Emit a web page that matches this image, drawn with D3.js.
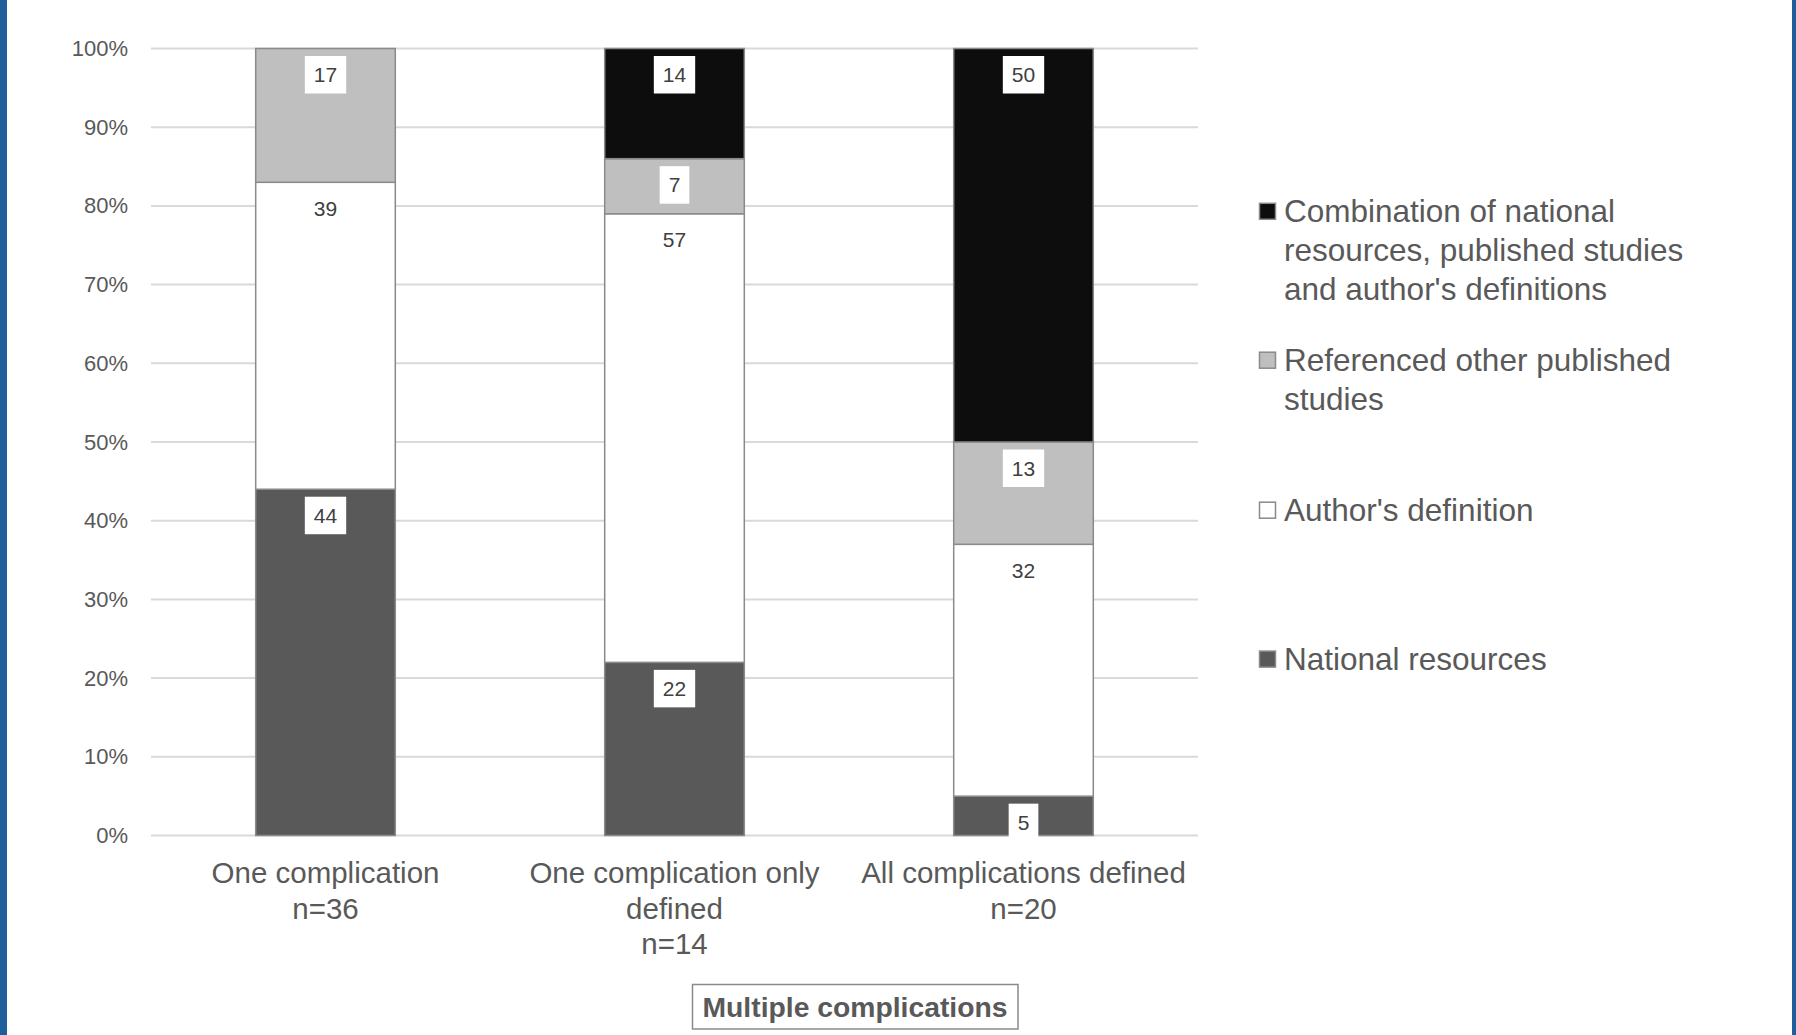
<!DOCTYPE html>
<html>
<head>
<meta charset="utf-8">
<script src="https://cdn.jsdelivr.net/npm/d3@7"></script>
<style>
  html, body { margin: 0; padding: 0; background: #ffffff; }
  svg { display: block; }
  text { font-family: "Liberation Sans", Arial, sans-serif; }
</style>
</head>
<body>
<svg id="chart" width="1796" height="1035"></svg>
<script>
// Groups of studies along the x axis (each label split into lines)
const categories = ["One complication", "One complication only defined", "All complications defined"];
const categoryLines = [
  ["One complication", "n=36"],
  ["One complication only", "defined", "n=14"],
  ["All complications defined", "n=20"]
];

// Stacking order, bottom to top
const seriesKeys = ["national", "author", "referenced", "combination"];
const seriesNames = [
  "National resources",
  "Author's definition",
  "Referenced other published studies",
  "Combination of national resources, published studies and author's definitions"
];

// Percentage of studies in each group, per series
const national    = [44, 22, 5];
const author      = [39, 57, 32];
const referenced  = [17, 7, 13];
const combination = [0, 14, 50];

// Y axis ticks
const tickValues = [0, 10, 20, 30, 40, 50, 60, 70, 80, 90, 100];
const tickLabels = ["0%", "10%", "20%", "30%", "40%", "50%", "60%", "70%", "80%", "90%", "100%"];

// Legend entries, top to bottom
const legendKeys = ["combination", "referenced", "author", "national"];
const legendLines = [
  ["Combination of national", "resources, published studies", "and author's definitions"],
  ["Referenced other published", "studies"],
  ["Author's definition"],
  ["National resources"]
];

const groupTitle = "Multiple complications";

// ---- styling ----
const colors = {
  national: "#595959",
  author: "#ffffff",
  referenced: "#bfbfbf",
  combination: "#0d0d0d"
};
const textGrey = "#595959";
const labelGrey = "#404040";
const edgeGrey = "#8a8a8a";
const frameBlue = "#1f5e9c";

const svg = d3.select("#chart");
const W = 1796, H = 1035;

// side frame bars
svg.append("rect").attr("x", 0).attr("y", 0).attr("width", 7).attr("height", H).attr("fill", frameBlue);
svg.append("rect").attr("x", 1792).attr("y", 0).attr("width", 4).attr("height", H).attr("fill", frameBlue);

const plot = { left: 151, right: 1198, top: 48.5, bottom: 835.5 };

const x = d3.scaleBand()
  .domain(categories)
  .range([plot.left, plot.right])
  .paddingInner(0.6)
  .paddingOuter(0.3);

const y = d3.scaleLinear()
  .domain([0, 100])
  .range([plot.bottom, plot.top]);

// gridlines
svg.append("g")
  .selectAll("line")
  .data(tickValues)
  .join("line")
  .attr("x1", plot.left)
  .attr("x2", plot.right)
  .attr("y1", d => y(d))
  .attr("y2", d => y(d))
  .attr("stroke", "#d9d9d9")
  .attr("stroke-width", 2);

// y axis labels via d3.axisLeft
const yAxis = d3.axisLeft(y)
  .tickValues(tickValues)
  .tickFormat((d, i) => tickLabels[i])
  .tickSize(0)
  .tickPadding(0);

const yAxisG = svg.append("g")
  .attr("transform", `translate(128,0)`)
  .call(yAxis);
yAxisG.select(".domain").remove();
yAxisG.selectAll("text")
  .attr("fill", textGrey)
  .style("font-size", "22px")
  .style("font-family", "'Liberation Sans', Arial, sans-serif");

// build stacked data
const rows = categories.map((c, i) => ({
  category: c,
  national: national[i],
  author: author[i],
  referenced: referenced[i],
  combination: combination[i]
}));
const stacked = d3.stack().keys(seriesKeys)(rows);

const layers = svg.append("g")
  .selectAll("g")
  .data(stacked)
  .join("g")
  .attr("fill", d => colors[d.key]);

layers.selectAll("rect")
  .data(d => d.map(p => ({ key: d.key, y0: p[0], y1: p[1], category: p.data.category })))
  .join("rect")
  .filter(d => d.y1 - d.y0 > 0)
  .attr("x", d => x(d.category))
  .attr("width", x.bandwidth())
  .attr("y", d => y(d.y1))
  .attr("height", d => y(d.y0) - y(d.y1))
  .attr("stroke", edgeGrey)
  .attr("stroke-width", 1.5);

// value labels, placed at the inside top of each segment on a white box
const labelG = svg.append("g");
stacked.forEach(layer => {
  layer.forEach(p => {
    const v = p[1] - p[0];
    if (v <= 0) return;
    const cx = x(p.data.category) + x.bandwidth() / 2;
    const top = y(p[1]) + 7.5;
    const g = labelG.append("g");
    const t = g.append("text")
      .attr("x", cx)
      .attr("y", top + 18.75)
      .attr("dy", "0.35em")
      .attr("text-anchor", "middle")
      .attr("fill", labelGrey)
      .style("font-size", "21px")
      .text(v);
    const w = t.node().getComputedTextLength() + 18;
    g.insert("rect", "text")
      .attr("x", cx - w / 2)
      .attr("y", top)
      .attr("width", w)
      .attr("height", 37.5)
      .attr("fill", "#ffffff");
  });
});

// category labels under the bars
const catG = svg.append("g");
categories.forEach((c, i) => {
  const t = catG.append("text")
    .attr("x", x(c) + x.bandwidth() / 2)
    .attr("y", 873)
    .attr("text-anchor", "middle")
    .attr("fill", textGrey)
    .style("font-size", "29.5px");
  categoryLines[i].forEach((line, j) => {
    t.append("tspan")
      .attr("x", x(c) + x.bandwidth() / 2)
      .attr("y", 873 + j * 35.5)
      .attr("dy", "0.35em")
      .text(line);
  });
});

// group title box
const titleG = svg.append("g");
titleG.append("rect")
  .attr("x", 692.5)
  .attr("y", 984.5)
  .attr("width", 325.5)
  .attr("height", 44.5)
  .attr("fill", "#ffffff")
  .attr("stroke", edgeGrey)
  .attr("stroke-width", 1.5);
titleG.append("text")
  .attr("x", 855)
  .attr("y", 1006.7)
  .attr("dy", "0.35em")
  .attr("text-anchor", "middle")
  .attr("fill", textGrey)
  .style("font-size", "28.3px")
  .style("font-weight", "bold")
  .text(groupTitle);

// legend
const legendTops = [210.8, 359.7, 509.7, 658.6];
const legendG = svg.append("g");
legendKeys.forEach((k, i) => {
  const cy = legendTops[i];
  legendG.append("rect")
    .attr("x", 1259.5)
    .attr("y", cy - 7.5)
    .attr("width", 16)
    .attr("height", 16)
    .attr("fill", colors[k])
    .attr("stroke", edgeGrey)
    .attr("stroke-width", 1.5);
  const t = legendG.append("text")
    .attr("fill", textGrey)
    .style("font-size", "31.5px");
  legendLines[i].forEach((line, j) => {
    t.append("tspan")
      .attr("x", 1284)
      .attr("y", cy + j * 39)
      .attr("dy", "0.35em")
      .text(line);
  });
});
</script>
</body>
</html>
